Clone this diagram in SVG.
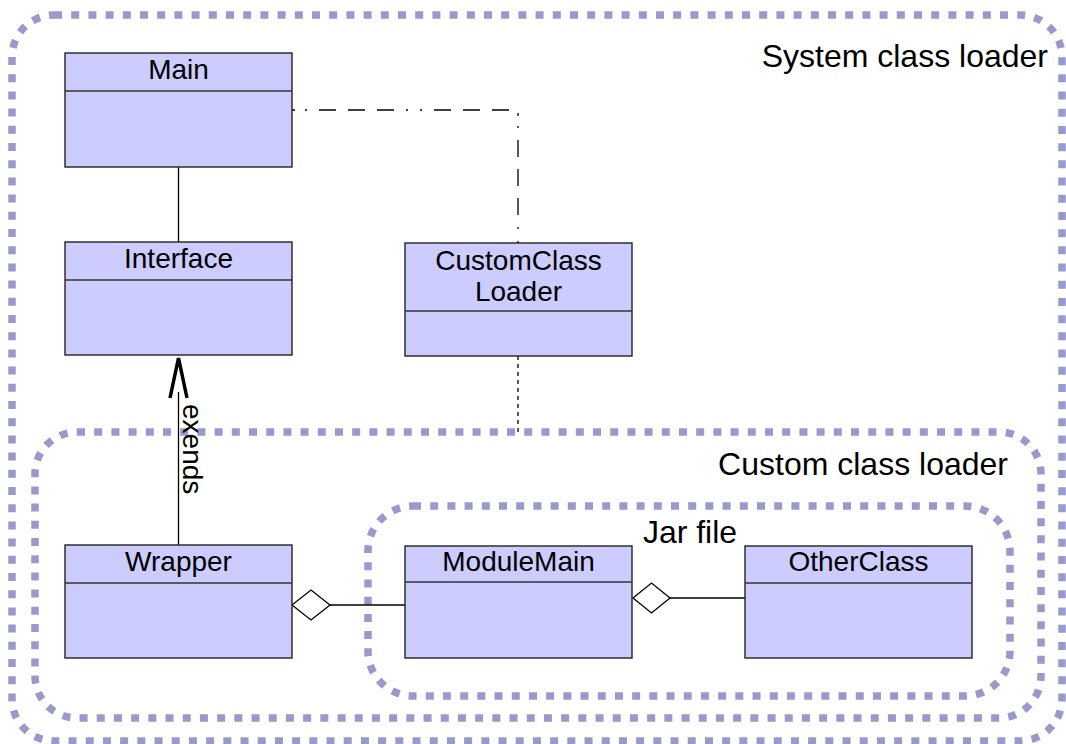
<svg xmlns="http://www.w3.org/2000/svg" width="1066" height="744" viewBox="0 0 1066 744">
<style>
.region{fill:none;stroke:#9999cc;stroke-width:7.5;stroke-dasharray:8 9.2}
.box{fill:#ccccff;stroke:#222;stroke-width:1.4}
.sep{stroke:#333;stroke-width:1.4}
.name{font-family:"Liberation Sans",Arial,sans-serif;font-size:28px;fill:#000;text-anchor:middle}
.rot{font-family:"Liberation Sans",Arial,sans-serif;font-size:28px;fill:#000;text-anchor:start}
.lbl{font-family:"Liberation Sans",Arial,sans-serif;font-size:32px;fill:#000}
.ln{fill:none;stroke:#000;stroke-width:1.3}
.dia{fill:#fff;stroke:#000;stroke-width:1.3}
</style>
<rect width="1066" height="744" fill="#fff"/>
<g id="regions">
<g id="system-loader">
<rect class="region" x="12" y="15" width="1050" height="726" rx="42" ry="42"/>
<text class="lbl" x="1048" y="67" text-anchor="end">System class loader</text>
</g>
<g id="custom-loader">
<rect class="region" x="35" y="432" width="1006" height="286" rx="42" ry="42"/>
<text class="lbl" x="1008" y="475" text-anchor="end">Custom class loader</text>
</g>
<g id="jar-file">
<rect class="region" x="368" y="506" width="642" height="190" rx="45" ry="45"/>
<text class="lbl" x="690" y="543" text-anchor="middle">Jar file</text>
</g>
</g>
<g id="connectors">
<line class="ln" x1="178.5" y1="167" x2="178.5" y2="242"/>
<path class="ln" d="M292 110 H518 V243" stroke-dasharray="3 10 2 12 17 12 17 12 17 12 2 12 2 12 17 12 17 12 17 12"/>
<line class="ln" x1="518" y1="356" x2="518" y2="432" stroke-dasharray="4 4"/>
<line class="ln" x1="178.5" y1="545" x2="178.5" y2="392"/>
<polyline points="170,398 178.5,358 187,398" fill="none" stroke="#000" stroke-width="3.5" stroke-linejoin="miter"/>
<text class="rot" transform="translate(183,404) rotate(90)">exends</text>
<line class="ln" x1="330" y1="605" x2="405" y2="605"/>
<polygon class="dia" points="292,605 311,590 330,605 311,620"/>
<line class="ln" x1="670" y1="598" x2="745" y2="598" stroke="#444"/>
<polygon class="dia" points="633,598 651.5,583 670,598 651.5,613"/>
</g>
<g id="Main">
<rect class="box" x="65" y="53" width="227" height="114"/>
<line class="sep" x1="65" y1="91" x2="292" y2="91"/>
<text class="name" x="178.5" y="79">Main</text>
</g>
<g id="Interface">
<rect class="box" x="65" y="242" width="227" height="113"/>
<line class="sep" x1="65" y1="280" x2="292" y2="280"/>
<text class="name" x="178.5" y="268">Interface</text>
</g>
<g id="CustomClassLoader">
<rect class="box" x="405" y="243" width="227" height="113"/>
<line class="sep" x1="405" y1="311" x2="632" y2="311"/>
<text class="name" x="518.5" y="270">CustomClass</text>
<text class="name" x="518.5" y="301">Loader</text>
</g>
<g id="Wrapper">
<rect class="box" x="65" y="545" width="227" height="113"/>
<line class="sep" x1="65" y1="583" x2="292" y2="583"/>
<text class="name" x="178.5" y="571">Wrapper</text>
</g>
<g id="ModuleMain">
<rect class="box" x="405" y="546" width="227" height="112"/>
<line class="sep" x1="405" y1="582" x2="632" y2="582"/>
<text class="name" x="518.5" y="571">ModuleMain</text>
</g>
<g id="OtherClass">
<rect class="box" x="745" y="546" width="227" height="112"/>
<line class="sep" x1="745" y1="583" x2="972" y2="583"/>
<text class="name" x="858.5" y="571">OtherClass</text>
</g>
</svg>
